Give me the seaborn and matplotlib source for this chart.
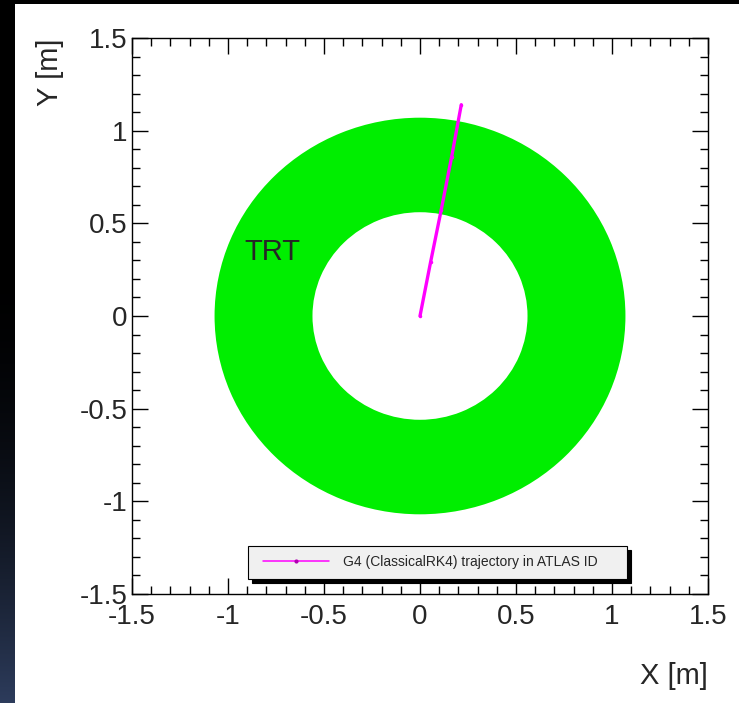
import numpy as np
import pandas as pd
import matplotlib
matplotlib.use("Agg")
import matplotlib.pyplot as plt
from matplotlib.patches import Wedge
from matplotlib.lines import Line2D
from matplotlib.legend_handler import HandlerLine2D
from matplotlib.ticker import MultipleLocator
import seaborn as sns

# ---- data ----
traj_x = [0.0, 0.055, 0.11, 0.165, 0.215]   # trajectory X [m]
traj_y = [0.0, 0.29, 0.57, 0.86, 1.14]      # trajectory Y [m]
trt_inner = 0.56   # TRT inner radius [m]
trt_outer = 1.07   # TRT outer radius [m]
trt_label = "TRT"
legend_label = "G4 (ClassicalRK4) trajectory in ATLAS ID"
x_ticks = [-1.5, -1, -0.5, 0, 0.5, 1, 1.5]
y_ticks = [-1.5, -1, -0.5, 0, 0.5, 1, 1.5]
tick_labels = ["-1.5", "-1", "-0.5", "0", "0.5", "1", "1.5"]

sns.set_style("ticks")
plt.rcParams["font.family"] = ["Liberation Sans", "DejaVu Sans"]

W, H = 739, 703
fig = plt.figure(figsize=(W / 100, H / 100), dpi=100)
fig.patch.set_facecolor("white")

# background: black top strip, dark gradient on left, white canvas
bg = np.ones((H, W, 3))
bg[:4, :, :] = 0.0
t = np.arange(H) / (H - 1)
g = np.clip((t - 0.35) / 0.65, 0, 1) ** 2
bottom_col = np.array([45, 60, 92]) / 255.0
bg[:, :15, :] = (g[:, None] * bottom_col[None, :])[:, None, :]
ax_bg = fig.add_axes([0, 0, 1, 1], zorder=-5)
ax_bg.imshow(bg, aspect="auto", extent=[0, 1, 0, 1], interpolation="nearest")
ax_bg.axis("off")

left, right, top, bottom = 132, 708, 38, 594
ax = fig.add_axes([left / W, 1 - bottom / H, (right - left) / W, (bottom - top) / H], zorder=1)
ax.set_facecolor("white")

# TRT ring
ring = Wedge((0, 0), trt_outer, 0, 360, width=trt_outer - trt_inner,
             facecolor="#00ee00", edgecolor="none", zorder=1)
ax.add_patch(ring)
ax.text(-0.77, 0.345, trt_label, fontsize=21, ha="center", va="center", zorder=3)

df = pd.DataFrame({"x": traj_x, "y": traj_y})
sns.lineplot(data=df, x="x", y="y", sort=False, color="#ff00ff", linewidth=2.4,
             marker="o", markersize=2.5, markeredgewidth=0, label=legend_label,
             ax=ax, zorder=4)

ax.set_xlim(-1.5, 1.5)
ax.set_ylim(-1.5, 1.5)
ax.set_xticks(x_ticks)
ax.set_xticklabels(tick_labels)
ax.set_yticks(y_ticks)
ax.set_yticklabels(tick_labels)
ax.xaxis.set_minor_locator(MultipleLocator(0.1))
ax.yaxis.set_minor_locator(MultipleLocator(0.1))
ax.tick_params(which="both", direction="in", top=True, right=True, color="black", width=1)
ax.tick_params(which="major", length=11.5, labelsize=20)
ax.tick_params(which="minor", length=5.8)
ax.tick_params(axis="x", which="major", pad=7.5)
ax.tick_params(axis="y", which="major", pad=3.5)
for s in ax.spines.values():
    s.set_color("black")
    s.set_linewidth(1.0)

ax.set_xlabel("X [m]", loc="right", fontsize=21)
ax.xaxis.set_label_coords(1.0, -0.122)
ax.set_ylabel("Y [m]", loc="top", fontsize=21)
ax.yaxis.set_label_coords(-0.142, 1.0)
ax.yaxis.label.set_verticalalignment("center")

leg = ax.legend(loc="lower left", bbox_to_anchor=(0.2014, 0.027, 0.6576, 0.0575),
                mode="expand", borderaxespad=0, fontsize=10, frameon=True,
                fancybox=False, framealpha=1, facecolor="#f0f0f0", edgecolor="black",
                borderpad=0.7, handlelength=5.13, handletextpad=1.0, numpoints=1,
                handler_map={Line2D: HandlerLine2D(xpad=0.36, numpoints=1)},
                shadow={"ox": 3, "oy": -3, "color": "black", "alpha": 1})
leg.get_frame().set_linewidth(0.8)
for ln in leg.get_lines():
    ln.set_linewidth(1.1)
    ln.set_markersize(3)
    ln.set_markerfacecolor("#b000b0")

fig.savefig("out.png", dpi=100)
